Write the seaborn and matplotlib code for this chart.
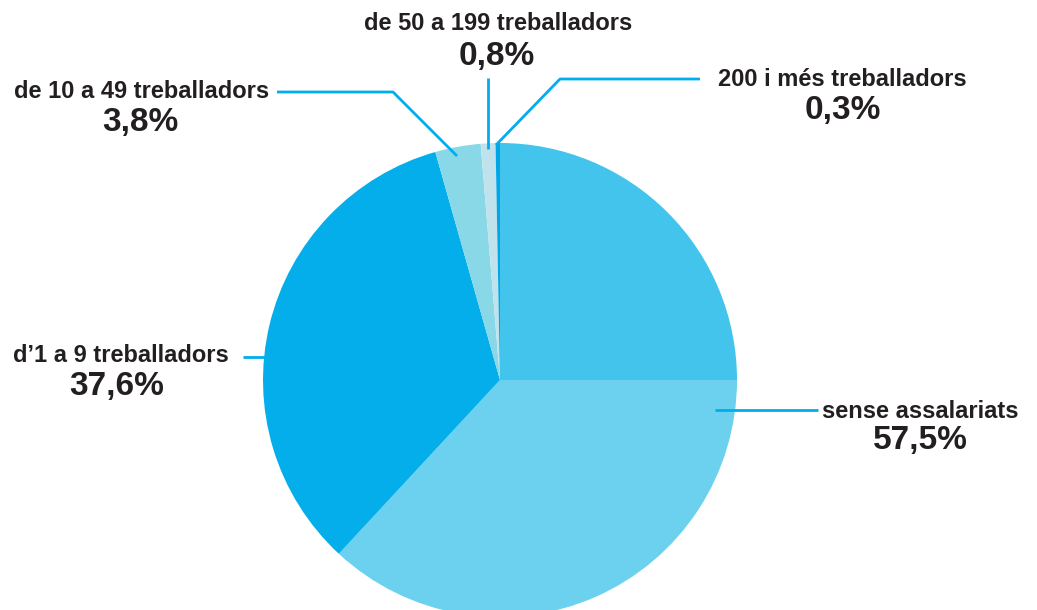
import matplotlib
matplotlib.use("Agg")
import matplotlib.pyplot as plt
import seaborn as sns

# wedge shares as drawn in the chart (sense assalariats is drawn in two shades)
wedge_names = ["sense assalariats (a)", "sense assalariats (b)", "d'1 a 9 treballadors",
               "de 10 a 49 treballadors", "de 50 a 199 treballadors", "200 i més treballadors"]
wedge_share = [25.0, 36.9, 33.7, 3.1, 1.0, 0.3]
wedge_colors = ["#42c4ec", "#6bd1ee", "#03aeea", "#89d8e8", "#bfe2ec", "#00a6e6"]

label_names = ["sense assalariats", "d’1 a 9 treballadors", "de 10 a 49 treballadors",
               "de 50 a 199 treballadors", "200 i més treballadors"]
label_pct = ["57,5%", "37,6%", "3,8%", "0,8%", "0,3%"]

sns.set_theme(style="white")
plt.rcParams["font.family"] = ["Liberation Sans", "DejaVu Sans"]

fig = plt.figure(figsize=(10.37, 6.10), dpi=100)
ax = fig.add_axes([0, 0, 1, 1])

# pie in pixel space (y axis inverted, so flip direction flag)
ax.pie(wedge_share, colors=sns.color_palette(wedge_colors), startangle=-90,
       counterclock=True, center=(500, 380), radius=237,
       wedgeprops=dict(linewidth=0), frame=True)
ax.set_xlim(0, 1037)
ax.set_ylim(610, 0)
ax.set_aspect("equal")
ax.axis("off")

line_kw = dict(color="#00aeef", lw=2, solid_capstyle="butt", zorder=5)
name_kw = dict(fontsize=17, fontweight="bold", color="#231f20", va="center")
pct_kw = dict(fontsize=24, fontweight="bold", color="#231f20", va="center", ha="center")

# leader lines
ax.plot([715, 818], [410, 410], **line_kw)           # sense assalariats
ax.plot([243, 265], [357, 357], **line_kw)           # d'1 a 9
ax.plot([457, 393, 277], [156, 92, 92], **line_kw)   # 10 a 49
ax.plot([488, 488], [149, 78], **line_kw)            # 50 a 199
ax.plot([496, 560, 700], [145, 79, 79], **line_kw)   # 200 i més

# labels
ax.text(822, 411, label_names[0], ha="left", **name_kw)
ax.text(920, 441, label_pct[0], **pct_kw)
ax.text(229, 356, label_names[1], ha="right", **name_kw)
ax.text(117, 386, label_pct[1], **pct_kw)
ax.text(269, 91, label_names[2], ha="right", **name_kw)
ax.text(140, 122, label_pct[2], **pct_kw)
ax.text(498, 23, label_names[3], ha="center", **name_kw)
ax.text(497, 56, label_pct[3], **pct_kw)
ax.text(718, 79, label_names[4], ha="left", **name_kw)
ax.text(843, 110, label_pct[4], **pct_kw)

fig.savefig("out.png", dpi=100)
